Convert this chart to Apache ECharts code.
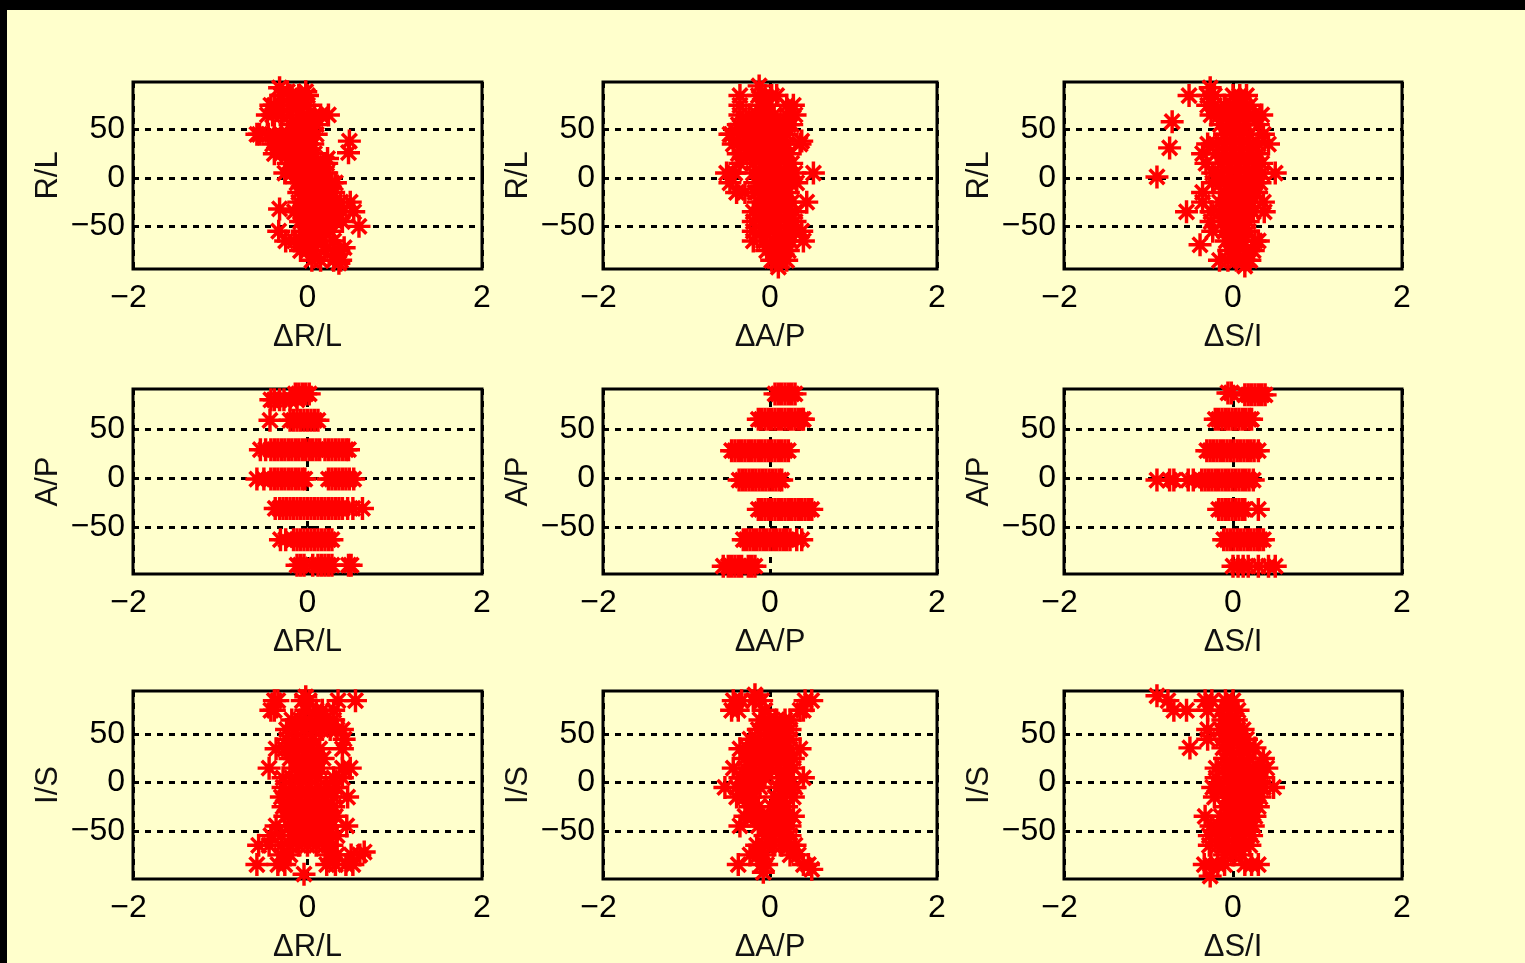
<!DOCTYPE html>
<html><head><meta charset="utf-8">
<style>html,body{margin:0;padding:0;background:#000}#c{width:1525px;height:963px}</style>
<script src="https://cdn.jsdelivr.net/npm/echarts@6/dist/echarts.min.js"></script>
</head><body><div id="c"></div>
<script>
const xTicks = [-2, 0, 2];
const yTicks = [-50, 0, 50];
const xLabels = ['\u0394R/L', '\u0394A/P', '\u0394S/I'];
const yLabels = ['R/L', 'A/P', 'I/S'];
const yRanges = [[-94, 99], [-98, 91], [-100, 95]];

// each entry: [y value, [x values read at that y]]
const rlVsDrl = [[93,[-.32]],[89,[-.23,-.02]],[85,[-.3,-.2,-.1,0]],[75,[-.42,-.38,-.3,-.2,-.12,-.05,0]],[65,[-.46,-.4,-.3,-.2,-.1,0,.08,.15,.24]],[55,[-.2,-.12,-.04,.04,.1]],[45,[-.58,-.55,-.45,-.38,-.3,-.22,-.14,-.06,.02,.1]],[38,[.48]],[35,[-.4,-.32,-.24,-.16,-.08,0,.06]],[26,[.47]],[25,[-.38,-.3,-.22,-.14,-.06,.02,.08]],[20,[.23]],[15,[-.22,-.14,-.06,.02,.1,.18,.22]],[5,[-.26,-.18,-.1,-.02,.06,.14,.22]],[-5,[-.12,-.04,.04,.12,.2,.28,.32]],[-15,[-.1,-.02,.06,.14,.22,.3]],[-25,[-.1,-.02,.06,.14,.22,.3,.38,.49]],[-32,[-.32]],[-35,[-.15,-.08,0,.08,.16,.24,.32,.4,.53]],[-45,[-.08,0,.08,.16,.24,.32,.4]],[-50,[.59]],[-55,[-.33,-.06,.02,.1,.18,.26]],[-65,[-.25,-.15,-.06,.02,.1,.18,.3]],[-72,[.42]],[-75,[-.08,0,.08,.2,.3,.36]],[-85,[.05,.15,.3,.38]],[-88,[.36]]];
const rlVsDap = [[95,[-.13]],[85,[-.36,-.14,-.06,.02,.08]],[75,[-.36,-.12,-.02,.2,.28]],[65,[-.36,-.25,-.15,-.05,.05,.2,.3]],[55,[-.38,-.28,-.18,-.08,.02,.12,.22,.26]],[45,[-.48,-.46,-.36,-.26,-.16,-.06,.04,.14,.2]],[38,[.38]],[35,[-.44,-.3,-.2,-.1,0,.1,.2,.36]],[25,[-.38,-.28,-.18,-.08,.02,.12,.22]],[15,[-.36,-.2,-.1,0,.1,.2,.26]],[5,[-.52,-.42,-.2,-.1,0,.1,.2,.3,.52]],[-5,[-.48,-.16,-.06,.04,.14,.24,.32]],[-15,[-.4,-.3,-.18,-.08,.02,.12,.22]],[-25,[-.14,-.04,.06,.16,.26,.44]],[-35,[-.2,-.1,0,.1,.2,.3]],[-45,[-.2,-.1,0,.1,.2,.3]],[-55,[-.2,-.1,0,.1,.2,.3,.38]],[-65,[-.2,-.08,.04,.14,.24,.4]],[-75,[-.04,.06,.16,.22]],[-85,[.02,.1,.2]],[-92,[.1]]];
const rlVsDsi = [[93,[-.27]],[85,[-.52,-.3,-.22,0,.08,.16]],[75,[-.3,-.22,-.1,0,.1,.2]],[65,[-.26,-.16,-.06,.04,.14,.24,.34]],[58,[-.72]],[55,[-.15,-.05,.05,.15,.3]],[45,[-.1,0,.1,.2,.36]],[35,[-.3,-.2,-.1,0,.1,.2,.3,.42]],[31,[-.75]],[25,[-.36,-.2,-.1,0,.1,.2,.3]],[15,[-.32,-.14,-.04,.06,.16,.26,.34]],[5,[-.24,-.14,-.04,.06,.16,.26,.34,.5]],[1,[-.9]],[-5,[-.24,-.14,-.04,.06,.16,.26,.32]],[-15,[-.36,-.1,0,.1,.2,.28]],[-25,[-.36,-.16,-.06,.04,.14,.22,.36]],[-35,[-.55,-.26,-.16,-.06,.04,.14,.24,.37]],[-45,[-.26,-.12,-.02,.08,.18]],[-55,[-.24,-.1,0,.1,.18]],[-65,[-.08,.02,.12,.26,.3]],[-69,[-.39]],[-75,[-.05,.05,.15,.24]],[-85,[-.16,-.06,.04,.14,.2]],[-91,[.14]]];

const apVsDrl = [[86,[-.14,-.1,-.06,-.02,.02]],[80,[-.42,-.38,-.32,-.27,-.2,-.12]],[59,[-.43,-.2,-.16,-.12,-.08,-.04,0,.04,.08,.12]],[29,[-.54,-.48,-.42,-.38,-.34,-.3,-.26,-.22,-.18,-.14,-.1,-.06,-.02,.02,.06,.1,.14,.2,.24,.28,.32,.36,.4,.44,.47]],[-1,[-.58,-.5,-.42,-.38,-.34,-.3,-.26,-.22,-.18,-.14,-.1,-.06,-.03,.24,.28,.32,.36,.4,.44,.48,.53]],[-31,[-.37,-.32,-.28,-.24,-.2,-.16,-.12,-.08,-.04,0,.04,.08,.12,.16,.2,.24,.28,.32,.36,.4,.46,.52,.63]],[-63,[-.31,-.25,-.16,-.12,-.08,-.04,0,.04,.08,.12,.16,.2,.24,.28]],[-89,[-.12,-.08,-.04,.06,.12,.16,.2,.24,.28,.47,.5]]];
const apVsDap = [[86,[.06,.1,.14,.18,.22,.26,.3]],[60,[-.14,-.1,-.06,-.02,.02,.06,.1,.14,.18,.22,.26,.3,.34,.38,.4]],[28,[-.46,-.42,-.38,-.34,-.3,-.26,-.22,-.18,-.14,-.1,-.06,-.02,.02,.06,.1,.14,.18,.22]],[-2,[-.37,-.33,-.29,-.25,-.21,-.17,-.13,-.09,-.05,-.01,.03,.07,.11,.14]],[-32,[-.14,-.1,-.06,-.02,.02,.06,.1,.14,.18,.22,.26,.3,.34,.38,.42,.46,.5]],[-63,[-.32,-.28,-.24,-.2,-.16,-.12,-.08,-.04,0,.04,.08,.12,.16,.2,.24,.32,.38]],[-90,[-.56,-.5,-.46,-.42,-.38,-.34,-.26,-.22,-.18]]];
const apVsDsi = [[87,[-.06,-.02]],[85,[.14,.18,.22,.26,.3,.34,.38]],[60,[-.21,-.17,-.13,-.09,-.05,-.01,.03,.07,.11,.15,.19,.22]],[28,[-.31,-.27,-.23,-.19,-.15,-.11,-.07,-.03,.01,.05,.09,.13,.17,.21,.25,.3]],[-2,[-.9,-.75,-.7,-.53,-.47,-.37,-.33,-.29,-.25,-.21,-.17,-.13,-.09,-.05,-.01,.03,.07,.11,.15,.19,.24]],[-32,[-.17,-.13,-.09,-.05,-.01,.03,.07,.11,.14,.3]],[-63,[-.11,-.07,-.03,.01,.05,.09,.13,.17,.21,.25,.29,.32,.36]],[-90,[0,.06,.12,.18,.3,.42,.5]]];

const isVsDrl = [[89,[-.02]],[85,[-.38,-.34,-.06,.02,.35,.55]],[75,[-.42,-.38,-.02,.1,.17,.3]],[65,[-.18,-.08,.02,.12,.2,.3]],[55,[-.24,-.14,-.04,.06,.16,.26,.34,.4]],[45,[-.24,-.14,-.04,.06,.42]],[35,[-.36,-.26,-.16,-.06,.04,.14,.4]],[25,[-.2,-.1,0,.1,.18]],[15,[-.44,-.14,-.04,.06,.14,.4,.49]],[5,[-.28,-.18,-.08,.02,.12,.3,.4]],[-5,[-.28,-.18,-.08,.02,.12,.22,.32]],[-15,[-.3,-.2,-.1,0,.1,.2,.3,.46]],[-25,[-.28,-.18,-.08,.02,.12,.22,.3]],[-35,[-.26,-.16,-.06,.04,.14,.24,.32]],[-45,[-.36,-.22,-.12,-.02,.08,.18,.28,.45]],[-55,[-.42,-.3,-.18,-.08,.02,.12,.22,.34]],[-65,[-.56,-.44,-.3,-.2,-.1,0,.1,.2,.28]],[-72,[.65]],[-75,[-.3,-.2,.24,.34,.5,.6]],[-85,[-.58,-.34,-.26,.22,.32,.44,.52]],[-95,[-.04]]];
const isVsDap = [[91,[-.18]],[85,[-.44,-.34,-.2,-.1,.42,.5]],[75,[-.46,-.38,-.06,.36,.4]],[65,[-.12,-.02,.08,.18,.24]],[55,[-.14,-.04,.06,.16,.24]],[45,[-.24,-.14,-.04,.06,.16,.24]],[35,[-.36,-.26,-.16,-.06,.04,.14,.24,.36]],[25,[-.3,-.2,-.1,0,.1,.2,.28]],[15,[-.44,-.3,-.2,-.1,0,.1,.2,.28]],[5,[-.36,-.26,-.16,-.06,.12,.22,.4]],[-5,[-.54,-.4,-.3,-.2,-.12,.1,.2,.3]],[-15,[-.4,-.3,-.2,.06,.16,.28]],[-25,[-.24,-.14,.02,.1,.2]],[-35,[-.3,-.2,-.1,0,.1,.2,.28]],[-45,[-.36,-.14,-.04,.06,.16,.24]],[-55,[-.06,.04,.14,.24]],[-65,[-.16,-.06,.04,.14,.24,.3]],[-75,[-.24,-.14,-.06,.24,.34]],[-85,[-.38,-.1,-.04,.4,.46]],[-90,[.5]],[-93,[-.08]]];
const isVsDsi = [[90,[-.9]],[85,[-.77,-.33,-.25,-.09,0]],[75,[-.7,-.55,-.3,-.14,-.04,.06]],[65,[-.12,-.04,.04]],[55,[-.3,-.14,-.04,.06,.12]],[45,[-.3,-.12,-.02,.08,.16]],[36,[-.51,-.12,-.02,.08,.18,.26]],[25,[-.1,0,.1,.2,.36]],[15,[-.2,-.1,0,.1,.2,.3,.4]],[5,[-.2,-.06,.04,.14,.24,.34]],[-5,[-.24,-.14,-.04,.06,.16,.26,.36,.48]],[-15,[-.22,-.08,.02,.12,.22,.32]],[-25,[-.1,0,.1,.2,.3]],[-35,[-.33,-.14,-.04,.06,.16,.26]],[-45,[-.26,-.16,-.06,.04,.14,.24]],[-55,[-.28,-.18,-.08,.02,.12,.22]],[-65,[-.28,-.18,-.08,.02,.12,.2]],[-75,[-.1,0,.1]],[-85,[-.34,-.26,-.18,-.1,.14,.22,.3]],[-97,[-.27]]];

const panelData = [[rlVsDrl, rlVsDap, rlVsDsi], [apVsDrl, apVsDap, apVsDsi], [isVsDrl, isVsDap, isVsDsi]];

const colEdges = [[133, 482], [603, 937], [1064, 1402]];
const rowEdges = [[82, 269], [389, 574], [691, 879]];
const FONT = '"Liberation Sans",Arial,sans-serif';
const STAR = 'path://M0 10.2H24V13.8H0ZM10.2 0H13.8V24H10.2ZM3 5.6L5.6 3L21 18.4L18.4 21ZM18.4 3L21 5.6L5.6 21L3 18.4Z';
const dash = { color: '#000', width: 3, type: [6, 6] };
const toPairs = rows => rows.flatMap(([y, xs]) => xs.map(x => [x, y]));

const grid = [], xAxis = [], yAxis = [], series = [];
rowEdges.forEach((r, ri) => colEdges.forEach((c, ci) => {
  const idx = grid.length;
  grid.push({ left: c[0], top: r[0], width: c[1] - c[0], height: r[1] - r[0], show: true, borderColor: '#000', borderWidth: 3, backgroundColor: 'transparent', outerBoundsMode: 'none' });
  xAxis.push({
    type: 'value', gridIndex: idx, min: -2, max: 2, interval: 2,
    name: xLabels[ci], nameLocation: 'middle', nameGap: 53,
    nameTextStyle: { color: '#111', fontFamily: FONT, fontSize: 31 },
    axisLine: { show: false }, axisTick: { show: true, inside: true, length: 6, lineStyle: { color: '#000', width: 3 } },
    axisLabel: { color: '#000', fontFamily: FONT, fontSize: 32, margin: 13, formatter: v => v < 0 ? '\u2212' + (-v) + '\u00a0' : String(v), hideOverlap: false },
    splitLine: { show: true, lineStyle: dash }
  });
  yAxis.push({
    type: 'value', gridIndex: idx, min: yRanges[ri][0], max: yRanges[ri][1],
    name: yLabels[ri], nameLocation: 'middle', nameGap: 69, nameRotate: 90,
    nameTextStyle: { color: '#111', fontFamily: FONT, fontSize: 31 },
    axisLine: { show: false },
    axisTick: { show: true, inside: true, length: 6, customValues: yTicks, lineStyle: { color: '#000', width: 3 } },
    axisLabel: { color: '#000', fontFamily: FONT, fontSize: 32, margin: 8, padding: [5, 0, 0, 0], customValues: yTicks, formatter: v => String(v).replace('-', '\u2212'), hideOverlap: false },
    splitLine: { show: true, lineStyle: dash }
  });
  series.push({
    type: 'scatter', xAxisIndex: idx, yAxisIndex: idx, data: toPairs(panelData[ri][ci]),
    symbol: STAR, symbolSize: 23, clip: false, silent: true, z: 5, large: false,
    itemStyle: { color: '#ff0000', opacity: 1 }
  });
}));

const chart = echarts.init(document.getElementById('c'), null, { renderer: 'canvas' });
chart.setOption({
  animation: false, backgroundColor: '#ffffcc',
  graphic: [
    { type: 'rect', left: 0, top: 0, shape: { width: 1525, height: 10 }, style: { fill: '#000' }, silent: true },
    { type: 'rect', left: 0, top: 0, shape: { width: 7, height: 963 }, style: { fill: '#000' }, silent: true }
  ],
  grid, xAxis, yAxis, series
});
</script></body></html>
